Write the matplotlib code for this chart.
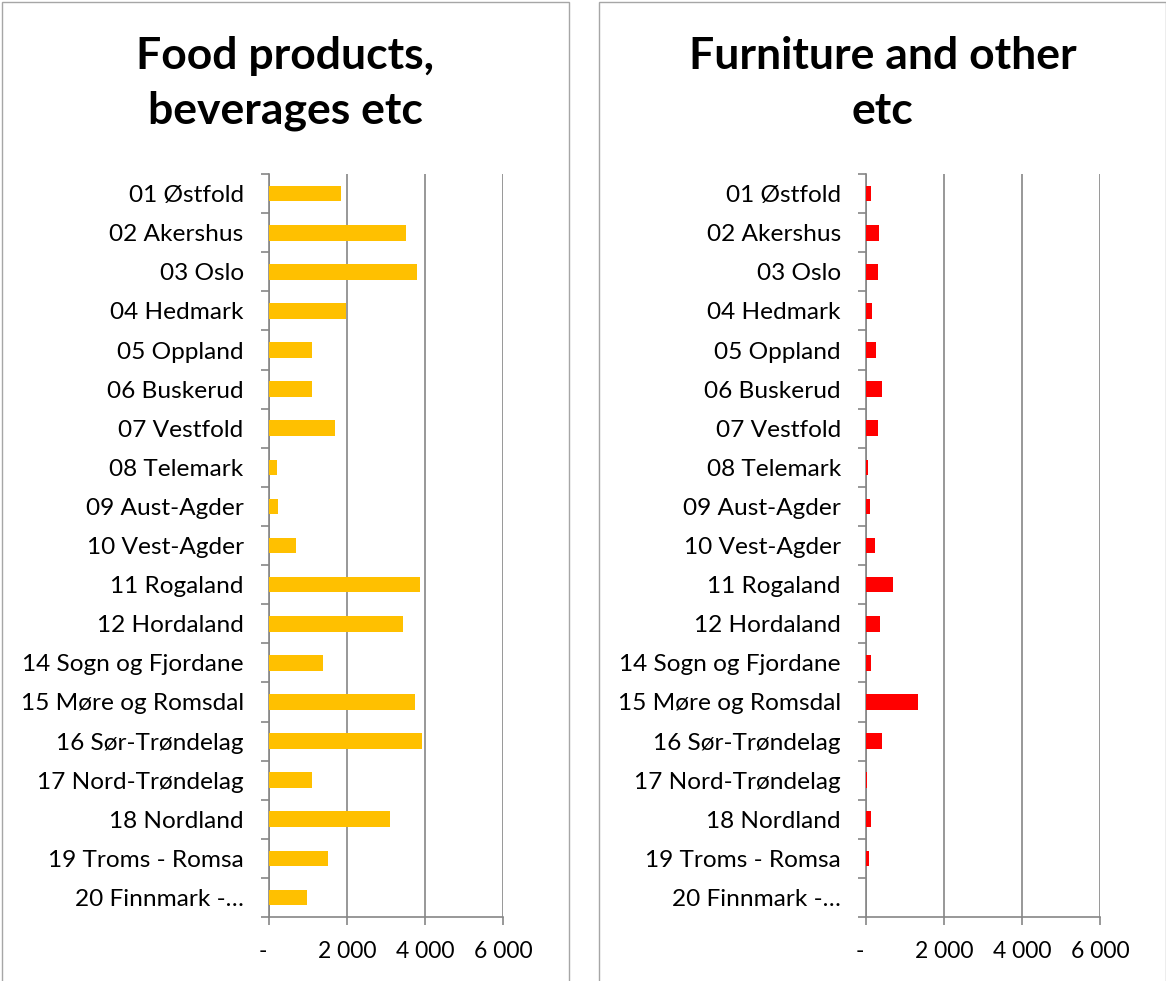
import matplotlib.pyplot as plt
import matplotlib.transforms as mtransforms
from matplotlib.patches import Rectangle

plt.rcParams['font.family'] = ['Lato', 'DejaVu Sans']

regions = ['01 Østfold', '02 Akershus', '03 Oslo', '04 Hedmark', '05 Oppland',
           '06 Buskerud', '07 Vestfold', '08 Telemark', '09 Aust-Agder',
           '10 Vest-Agder', '11 Rogaland', '12 Hordaland', '14 Sogn og Fjordane',
           '15 Møre og Romsdal', '16 Sør-Trøndelag', '17 Nord-Trøndelag',
           '18 Nordland', '19 Troms - Romsa', '20 Finnmark -…']

food = [1850, 3520, 3800, 1970, 1120, 1105, 1700, 205, 230, 705,
        3860, 3430, 1380, 3735, 3920, 1105, 3090, 1525, 985]
furniture = [135, 330, 325, 160, 265, 410, 305, 60, 110, 240,
             690, 355, 135, 1330, 410, 40, 135, 75, 15]

x_ticks = [0, 2000, 4000, 6000]
x_tick_labels = ['-', '2 000', '4 000', '6 000']

grey = '#868686'

fig = plt.figure(figsize=(11.66, 9.81), dpi=100)


def panel(box_left, box_width, ax_left, title, values, color):
    # frame around each chart
    fig.add_artist(Rectangle((box_left, -0.01), box_width, 1.008,
                             transform=fig.transFigure, fill=False,
                             edgecolor='#a6a6a6', lw=1.0))
    fig.text(box_left + box_width / 2, 0.915, title, ha='center', va='center',
             fontsize=32, fontweight='bold', linespacing=1.45)

    ax = fig.add_axes([ax_left, 0.0652, 0.2013, 0.7574])
    pos = list(range(len(regions)))
    ax.barh(pos, values, height=0.4, color=color, zorder=3)

    ax.set_xlim(0, 6000)
    ax.set_ylim(len(regions) - 0.5, -0.5)
    ax.set_xticks(x_ticks)
    ax.set_xticklabels(x_tick_labels, fontsize=16.5)
    ax.set_yticks(pos)
    ax.set_yticklabels(regions, fontsize=17.6)
    ax.set_yticks([p - 0.5 for p in pos] + [len(regions) - 0.5], minor=True)

    ax.grid(axis='x', color=grey, lw=1.2, zorder=0)
    for side in ['top', 'right']:
        ax.spines[side].set_visible(False)
    for side in ['left', 'bottom']:
        ax.spines[side].set_color(grey)
        ax.spines[side].set_linewidth(1.2)

    ax.tick_params(axis='y', which='major', length=0, pad=18)
    ax.tick_params(axis='y', which='minor', length=6, width=1.2, color=grey)
    ax.tick_params(axis='x', length=6, width=1.2, color=grey, pad=11)

    # the zero label sits a bit left of its tick
    zero = ax.get_xticklabels()[0]
    zero.set_transform(zero.get_transform() +
                       mtransforms.ScaledTranslation(-0.06, 0, fig.dpi_scale_trans))
    return ax


panel(0.0017, 0.4863, 0.2304, 'Food products,\nbeverages etc', food, '#FFC000')
panel(0.5137, 0.4863, 0.7425, 'Furniture and other\netc', furniture, '#FF0000')

fig.savefig('out.png', dpi=100)
